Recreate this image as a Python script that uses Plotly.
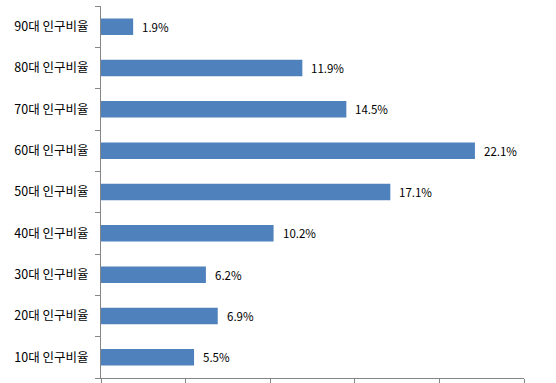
import plotly.graph_objects as go

categories = ["10대 인구비율", "20대 인구비율", "30대 인구비율", "40대 인구비율", "50대 인구비율",
              "60대 인구비율", "70대 인구비율", "80대 인구비율", "90대 인구비율"]
values = [5.5, 6.9, 6.2, 10.2, 17.1, 22.1, 14.5, 11.9, 1.9]
labels = [f"{v:.1f}%" for v in values]

FONT = "Noto Sans CJK KR, Malgun Gothic, sans-serif"

fig = go.Figure()
fig.add_trace(go.Bar(
    x=values, y=categories, orientation="h",
    marker=dict(color="#4F81BD", line=dict(width=0)),
    width=0.4,
    hoverinfo="skip",
))
for c, v, t in zip(categories, values, labels):
    fig.add_annotation(x=v, y=c, text=t, showarrow=False, xanchor="left",
                       xshift=7, font=dict(family=FONT, size=11.5, color="#000000"))

fig.update_layout(
    width=556, height=383,
    margin=dict(l=101, r=32, t=6, b=5),
    paper_bgcolor="white", plot_bgcolor="white",
    showlegend=False,
    font=dict(family=FONT, size=12, color="#000000"),
    xaxis=dict(range=[0, 25], dtick=5, tick0=0, showticklabels=False, showgrid=False,
               zeroline=False, showline=True, linecolor="#868686", linewidth=1,
               ticks="outside", ticklen=5, tickcolor="#868686", automargin=False),
    yaxis=dict(type="category", categoryorder="array", categoryarray=categories,
               showgrid=False, zeroline=False, showline=True, linecolor="#868686", linewidth=1,
               ticks="outside", ticklen=5, tickcolor="#868686", tickson="boundaries",
               ticklabelstandoff=9, automargin=False,
               tickfont=dict(family=FONT, size=12.5, color="#000000")),
)
fig.write_html("out.html", config={"displayModeBar": False},
               post_script="document.body.style.margin='0';document.body.style.padding='0';")
